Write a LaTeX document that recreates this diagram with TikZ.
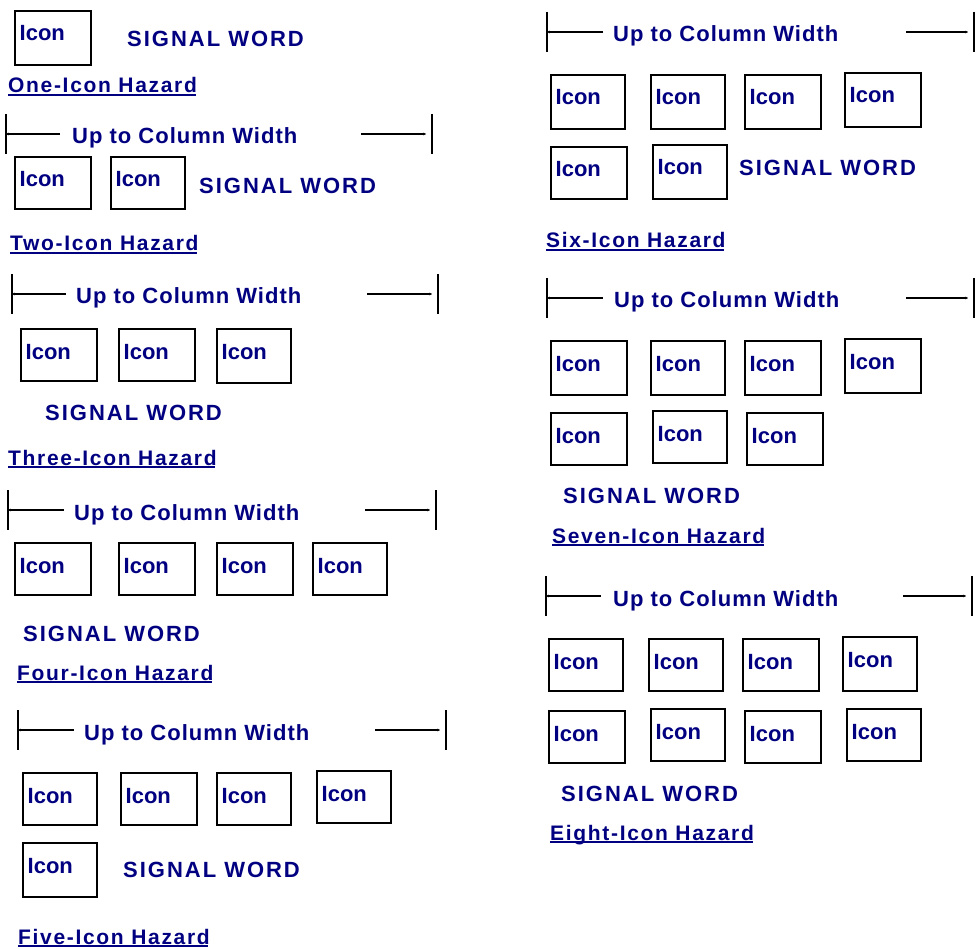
\documentclass[tikz,border=0pt]{standalone}
\usepackage{fontspec}
\setmainfont{Liberation Sans}
\newfontfamily\sigfont[LetterSpace=9]{Liberation Sans}
\newfontfamily\dimfont[LetterSpace=4.5]{Liberation Sans}
\newfontfamily\hazfont[LetterSpace=8]{Liberation Sans}
\usetikzlibrary{arrows.meta}
\definecolor{txtnavy}{RGB}{0,0,128}
\tikzset{
  iconbox/.style={draw=black, line width=2pt, inner sep=0pt, anchor=north west},
  icontxt/.style={text=txtnavy, font=\bfseries\fontsize{22}{22}\selectfont, inner sep=0pt, anchor=base west},
  sigword/.style={text=txtnavy, font=\sigfont\bfseries\fontsize{22}{22}\selectfont, inner sep=0pt, anchor=base west},
  dimtxt/.style={text=txtnavy, font=\dimfont\bfseries\fontsize{22}{22}\selectfont, inner sep=0pt, anchor=base west},
  haztxt/.style={text=txtnavy, font=\hazfont\bfseries\fontsize{21}{21}\selectfont, inner sep=0pt, anchor=base west},
  dimbar/.style={draw=black, line width=2pt},
  dimline/.style={draw=black, line width=1.3pt, -{Stealth[length=2.5pt,width=2.5pt]}},
  hazline/.style={draw=txtnavy, line width=2pt}
}
% icon box: name, x1, y1, x2, y2
\newcommand\ibox[5]{%
  \node[iconbox, minimum width={#4-#2}, minimum height={#5-#3}] (#1) at (#2,#3) {};
  \node[icontxt] (#1t) at ([xshift=5.5pt,yshift=-31pt]#1.north west) {Icon};
}
% dimension row: name, left bar x, right bar x, line y, left line end, text x, right line start
\newcommand\dimrow[7]{%
  \coordinate (#1lt) at (#2,#4-20); \coordinate (#1lb) at (#2,#4+20);
  \coordinate (#1rt) at (#3,#4-20); \coordinate (#1rb) at (#3,#4+20);
  \draw[dimbar] (#1lt) -- (#1lb);
  \draw[dimbar] (#1rt) -- (#1rb);
  \coordinate (#1a) at (#2,#4); \coordinate (#1b) at (#5,#4);
  \coordinate (#1c) at (#7,#4); \coordinate (#1d) at (#3-6,#4);
  \node[dimtxt] (#1t) at (#6,#4+10) {Up to Column Width};
  \draw[dimline] (#1b) -- (#1a);
  \draw[dimline] (#1c) -- (#1d);
}
% hazard label: name, x, baseline y, text
\newcommand\hazard[4]{%
  \node[haztxt] (#1) at (#2,#3) {#4};
  \draw[hazline] ([yshift=-2pt]#1.base west) -- ([yshift=-2pt,xshift=-1.5pt]#1.base east);
}
\begin{document}
\begin{tikzpicture}[x=1pt, y=-1pt]
\useasboundingbox (0,0) rectangle (979,949);

% ---- One-Icon
\ibox{a1}{14}{10}{90}{64}
\node[sigword] (sw1) at (127,47) {SIGNAL WORD};
\hazard{hz1}{8}{93}{One-Icon Hazard}

% ---- Two-Icon
\dimrow{d2}{6}{432}{134}{60}{72}{361}
\ibox{b1}{14}{156}{90}{208}
\ibox{b2}{110}{156}{184}{208}
\node[sigword] (sw2) at (199,194) {SIGNAL WORD};
\hazard{hz2}{10}{251}{Two-Icon Hazard}

% ---- Three-Icon
\dimrow{d3}{12}{438}{294}{66}{76}{367}
\ibox{c1}{20}{328}{96}{380}
\ibox{c2}{118}{328}{194}{380}
\ibox{c3}{216}{328}{290}{382}
\node[sigword] (sw3) at (45,420) {SIGNAL WORD};
\hazard{hz3}{8}{465}{Three-Icon Hazard}

% ---- Four-Icon
\dimrow{d4}{8}{436}{510}{64}{74}{365}
\ibox{e1}{14}{542}{90}{594}
\ibox{e2}{118}{542}{194}{594}
\ibox{e3}{216}{542}{292}{594}
\ibox{e4}{312}{542}{386}{594}
\node[sigword] (sw4) at (23,641) {SIGNAL WORD};
\hazard{hz4}{17}{680}{Four-Icon Hazard}

% ---- Five-Icon
\dimrow{d5}{18}{446}{730}{74}{84}{375}
\ibox{f1}{22}{772}{96}{824}
\ibox{f2}{120}{772}{196}{824}
\ibox{f3}{216}{772}{290}{824}
\ibox{f4}{316}{770}{390}{822}
\ibox{f5}{22}{842}{96}{896}
\node[sigword] (sw5) at (123,877) {SIGNAL WORD};
\hazard{hz5}{18}{944}{Five-Icon Hazard}

% ---- Six-Icon
\dimrow{d6}{547}{974}{32}{603}{613}{906}
\ibox{g1}{550}{74}{624}{128}
\ibox{g2}{650}{74}{724}{128}
\ibox{g3}{744}{74}{820}{128}
\ibox{g4}{844}{72}{920}{126}
\ibox{g5}{550}{146}{626}{198}
\ibox{g6}{652}{144}{726}{198}
\node[sigword] (sw6) at (739,176) {SIGNAL WORD};
\hazard{hz6}{546}{248}{Six-Icon Hazard}

% ---- Seven-Icon
\dimrow{d7}{547}{974}{298}{603}{614}{906}
\ibox{h1}{550}{340}{626}{394}
\ibox{h2}{650}{340}{724}{394}
\ibox{h3}{744}{340}{820}{394}
\ibox{h4}{844}{338}{920}{392}
\ibox{h5}{550}{412}{626}{464}
\ibox{h6}{652}{410}{726}{462}
\ibox{h7}{746}{412}{822}{464}
\node[sigword] (sw7) at (563,503) {SIGNAL WORD};
\hazard{hz7}{552}{543}{Seven-Icon Hazard}

% ---- Eight-Icon
\dimrow{d8}{546}{972}{596}{601}{613}{903}
\ibox{k1}{548}{638}{622}{690}
\ibox{k2}{648}{638}{722}{690}
\ibox{k3}{742}{638}{818}{690}
\ibox{k4}{842}{636}{916}{690}
\ibox{k5}{548}{710}{624}{762}
\ibox{k6}{650}{708}{724}{760}
\ibox{k7}{744}{710}{820}{762}
\ibox{k8}{846}{708}{920}{760}
\node[sigword] (sw8) at (561,801) {SIGNAL WORD};
\hazard{hz8}{550}{840}{Eight-Icon Hazard}
\end{tikzpicture}
\end{document}
